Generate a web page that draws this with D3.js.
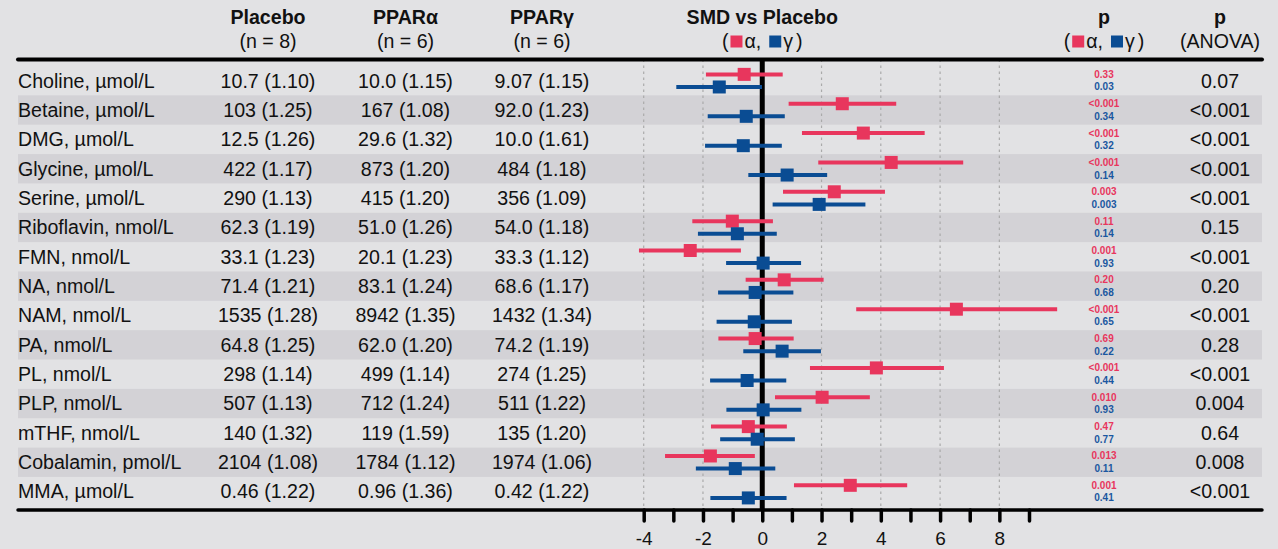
<!DOCTYPE html>
<html>
<head>
<meta charset="utf-8">
<script src="https://cdn.jsdelivr.net/npm/d3@7"></script>
<style>
  body { margin: 0; background: #e2e2e4; }
  svg { display: block; font-family: "Liberation Sans", Arial, sans-serif; }
</style>
</head>
<body>
<svg id="chart"></svg>
<script>
const metabolites = ['Choline, µmol/L', 'Betaine, µmol/L', 'DMG, µmol/L', 'Glycine, µmol/L', 'Serine, µmol/L',
  'Riboflavin, nmol/L', 'FMN, nmol/L', 'NA, nmol/L', 'NAM, nmol/L', 'PA, nmol/L', 'PL, nmol/L',
  'PLP, nmol/L', 'mTHF, nmol/L', 'Cobalamin, pmol/L', 'MMA, µmol/L'];
const placebo = ['10.7 (1.10)', '103 (1.25)', '12.5 (1.26)', '422 (1.17)', '290 (1.13)', '62.3 (1.19)', '33.1 (1.23)',
  '71.4 (1.21)', '1535 (1.28)', '64.8 (1.25)', '298 (1.14)', '507 (1.13)', '140 (1.32)', '2104 (1.08)', '0.46 (1.22)'];
const pparA = ['10.0 (1.15)', '167 (1.08)', '29.6 (1.32)', '873 (1.20)', '415 (1.20)', '51.0 (1.26)', '20.1 (1.23)',
  '83.1 (1.24)', '8942 (1.35)', '62.0 (1.20)', '499 (1.14)', '712 (1.24)', '119 (1.59)', '1784 (1.12)', '0.96 (1.36)'];
const pparG = ['9.07 (1.15)', '92.0 (1.23)', '10.0 (1.61)', '484 (1.18)', '356 (1.09)', '54.0 (1.18)', '33.3 (1.12)',
  '68.6 (1.17)', '1432 (1.34)', '74.2 (1.19)', '274 (1.25)', '511 (1.22)', '135 (1.20)', '1974 (1.06)', '0.42 (1.22)'];

// SMD vs placebo (estimate, lower, upper)
const smdAlpha = [-0.61, 2.70, 3.41, 4.35, 2.43, -1.01, -2.43, 0.74, 6.55, -0.24, 3.85, 2.02, -0.47, -1.75, 2.97];
const loAlpha = [-1.90, 0.89, 1.34, 1.89, 0.70, -2.36, -4.16, -0.56, 3.17, -1.48, 1.61, 0.43, -1.73, -3.28, 1.07];
const hiAlpha = [0.69, 4.52, 5.48, 6.78, 4.14, 0.36, -0.72, 2.07, 9.95, 1.06, 6.13, 3.63, 0.83, -0.25, 4.89];
const smdGamma = [-1.45, -0.54, -0.64, 0.84, 1.92, -0.84, 0.03, -0.24, -0.27, 0.67, -0.51, 0.03, -0.17, -0.91, -0.47];
const loGamma = [-2.90, -1.84, -1.93, -0.47, 0.35, -2.17, -1.22, -1.49, -1.54, -0.64, -1.76, -1.21, -1.42, -2.24, -1.75];
const hiGamma = [-0.01, 0.76, 0.66, 2.19, 3.48, 0.49, 1.31, 1.05, 1.00, 1.98, 0.81, 1.32, 1.10, 0.44, 0.82];

const pAlpha = ['0.33', '<0.001', '<0.001', '<0.001', '0.003', '0.11', '0.001', '0.20', '<0.001', '0.69', '<0.001',
  '0.010', '0.47', '0.013', '0.001'];
const pGamma = ['0.03', '0.34', '0.32', '0.14', '0.003', '0.14', '0.93', '0.68', '0.65', '0.22', '0.44', '0.93',
  '0.77', '0.11', '0.41'];
const pAnova = ['0.07', '<0.001', '<0.001', '<0.001', '<0.001', '0.15', '<0.001', '0.20', '<0.001', '0.28', '<0.001',
  '0.004', '0.64', '0.008', '<0.001'];

const xTicks = d3.range(-4, 10);
const gridTicks = [-4, -2, 2, 4, 6, 8];

const width = 1278, height = 549;
const red = '#e8365d', blue = '#0a4c93';
const fontSize = 19.6;

const svg = d3.select('#chart').attr('width', width).attr('height', height);
svg.append('rect').attr('width', width).attr('height', height).attr('fill', '#e2e2e4');

const left = 18, right = 1262;
const topLine = 59.5, bottomLine = 510;

const x = d3.scaleLinear().domain([-4, 9]).range([643.7, 1029]);
const y = d3.scaleBand().domain(metabolites).range([66, 506.3]).padding(0);
const yc = d => y(d) + y.bandwidth() / 2;

// alternating row bands
svg.append('g').selectAll('rect')
  .data(metabolites.filter((d, i) => i % 2 === 1))
  .join('rect')
  .attr('x', left).attr('width', right - left)
  .attr('y', d => y(d)).attr('height', y.bandwidth())
  .attr('fill', '#d3d2d6');

// dotted gridlines
svg.append('g').selectAll('line')
  .data(gridTicks)
  .join('line')
  .attr('x1', d => x(d)).attr('x2', d => x(d))
  .attr('y1', topLine).attr('y2', bottomLine)
  .attr('stroke', '#aaaaaa').attr('stroke-width', 1.2)
  .attr('stroke-dasharray', '2.5,3.5');

// zero line
svg.append('line')
  .attr('x1', x(0)).attr('x2', x(0))
  .attr('y1', topLine).attr('y2', bottomLine)
  .attr('stroke', 'black').attr('stroke-width', 5);

// header
const cols = [
  {x: 268, t1: 'Placebo', t2: '(n = 8)'},
  {x: 405.5, t1: 'PPARα', t2: '(n = 6)'},
  {x: 542, t1: 'PPARγ', t2: '(n = 6)'},
  {x: x(0), t1: 'SMD vs Placebo', t2: null},
  {x: 1104, t1: 'p', t2: null},
  {x: 1220, t1: 'p', t2: '(ANOVA)'}
];
const header = svg.append('g').attr('font-size', fontSize).attr('text-anchor', 'middle').attr('fill', '#111');
cols.forEach(c => {
  header.append('text').attr('x', c.x).attr('y', 24).attr('font-weight', 'bold').text(c.t1);
  if (c.t2) header.append('text').attr('x', c.x).attr('y', 48).text(c.t2);
});

// "(■α, ■γ)" legend pieces, laid out left to right then centred
function legend(cx) {
  const g = svg.append('g').attr('font-size', fontSize).attr('fill', '#111');
  const items = [
    {t: '('}, {gap: 2}, {sq: red}, {gap: 2}, {t: 'α,'}, {gap: 8}, {sq: blue}, {gap: 2}, {t: 'γ'}, {gap: 3}, {t: ')'}
  ];
  let cur = 0;
  items.forEach(it => {
    if (it.gap) { cur += it.gap; return; }
    if (it.sq) {
      g.append('rect').attr('x', cur).attr('y', 35.5).attr('width', 12).attr('height', 12).attr('fill', it.sq);
      cur += 12;
      return;
    }
    const t = g.append('text').attr('x', cur).attr('y', 48).text(it.t);
    cur += t.node().getComputedTextLength();
  });
  g.attr('transform', `translate(${cx - cur / 2},0)`);
}
legend(x(0));
legend(1104);

// top and bottom rules
[topLine, bottomLine].forEach((yy, i) => {
  svg.append('line')
    .attr('x1', left).attr('x2', right)
    .attr('y1', yy).attr('y2', yy)
    .attr('stroke', 'black').attr('stroke-width', i === 0 ? 4 : 3.5)
    .attr('stroke-linecap', 'round');
});

// table text
const rows = svg.append('g').attr('font-size', fontSize).attr('fill', '#111');
rows.selectAll('text.label')
  .data(metabolites)
  .join('text').attr('class', 'label')
  .attr('x', left).attr('y', d => yc(d)).attr('dy', '0.35em')
  .text(d => d);

[[placebo, 268], [pparA, 405.5], [pparG, 542], [pAnova, 1220]].forEach(([vals, cx]) => {
  rows.append('g').selectAll('text')
    .data(vals)
    .join('text')
    .attr('x', cx).attr('text-anchor', 'middle')
    .attr('y', (d, i) => yc(metabolites[i])).attr('dy', '0.35em')
    .text(d => d);
});

// pairwise p-values
const small = svg.append('g').attr('font-size', 10).attr('font-weight', 'bold').attr('text-anchor', 'middle');
small.selectAll('text.pa')
  .data(pAlpha)
  .join('text').attr('class', 'pa')
  .attr('x', 1104).attr('y', (d, i) => yc(metabolites[i]) - 6.3).attr('dy', '0.35em')
  .attr('fill', red).text(d => d);
small.selectAll('text.pg')
  .data(pGamma)
  .join('text').attr('class', 'pg')
  .attr('x', 1104).attr('y', (d, i) => yc(metabolites[i]) + 6.3).attr('dy', '0.35em')
  .attr('fill', '#1a57a0').text(d => d);

// forest plot
const series = [
  {est: smdAlpha, lo: loAlpha, hi: hiAlpha, color: red, off: -6.3},
  {est: smdGamma, lo: loGamma, hi: hiGamma, color: blue, off: 6.3}
];
const sq = 13;
series.forEach(s => {
  const g = svg.append('g');
  const data = metabolites.map((m, i) => ({m, est: s.est[i], lo: s.lo[i], hi: s.hi[i]}));
  g.selectAll('line')
    .data(data)
    .join('line')
    .attr('x1', d => x(d.lo)).attr('x2', d => x(d.hi))
    .attr('y1', d => yc(d.m) + s.off).attr('y2', d => yc(d.m) + s.off)
    .attr('stroke', s.color).attr('stroke-width', 4);
  g.selectAll('rect')
    .data(data)
    .join('rect')
    .attr('x', d => x(d.est) - sq / 2).attr('y', d => yc(d.m) + s.off - sq / 2)
    .attr('width', sq).attr('height', sq)
    .attr('fill', s.color);
});

// x axis
const axis = d3.axisBottom(x)
  .tickValues(xTicks)
  .tickSize(11)
  .tickPadding(11)
  .tickFormat(d => d % 2 === 0 ? String(d) : '');
const ax = svg.append('g')
  .attr('transform', `translate(0,${bottomLine})`)
  .attr('font-size', 19)
  .call(axis);
ax.attr('font-size', 19);
ax.select('.domain').remove();
ax.selectAll('.tick line')
  .attr('stroke', 'black').attr('stroke-width', 3.5).attr('stroke-linecap', 'round');
ax.selectAll('.tick text')
  .style('font-size', '19px').style('font-family', '"Liberation Sans", Arial, sans-serif').attr('fill', '#111');
</script>
</body>
</html>
